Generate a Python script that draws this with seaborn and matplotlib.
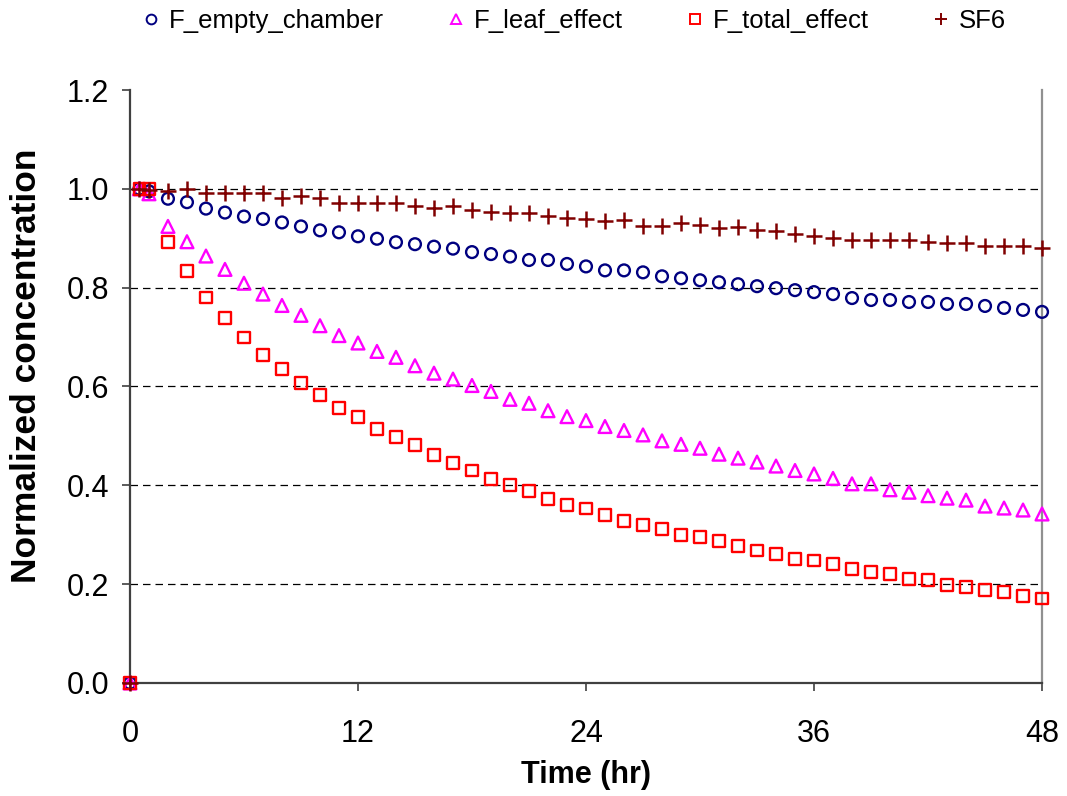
import matplotlib
matplotlib.use("Agg")
import matplotlib.pyplot as plt
import seaborn as sns
import pandas as pd

time_hr = [0, 0.5, 1] + list(range(2, 49))

f_empty_chamber = [0, 1.0, 0.995,
    0.980, 0.973, 0.960, 0.952, 0.944, 0.939, 0.932, 0.924, 0.916, 0.912,
    0.904, 0.899, 0.892, 0.888, 0.883, 0.879, 0.872, 0.868, 0.863, 0.856,
    0.856, 0.848, 0.843, 0.835, 0.835, 0.831, 0.823, 0.819, 0.815, 0.811,
    0.807, 0.803, 0.799, 0.795, 0.791, 0.787, 0.779, 0.775, 0.775, 0.771,
    0.771, 0.767, 0.767, 0.763, 0.759, 0.755, 0.751]

f_leaf_effect = [0, 1.0, 0.99,
    0.924, 0.893, 0.864, 0.837, 0.809, 0.787, 0.764, 0.744, 0.723, 0.703,
    0.688, 0.671, 0.659, 0.642, 0.627, 0.615, 0.602, 0.590, 0.574, 0.566,
    0.551, 0.539, 0.531, 0.519, 0.511, 0.502, 0.490, 0.483, 0.475, 0.463,
    0.455, 0.447, 0.439, 0.430, 0.423, 0.414, 0.403, 0.403, 0.391, 0.386,
    0.379, 0.374, 0.370, 0.358, 0.354, 0.350, 0.342]

f_total_effect = [0, 1.0, 1.0,
    0.893, 0.833, 0.780, 0.739, 0.699, 0.663, 0.636, 0.607, 0.583, 0.557,
    0.538, 0.514, 0.497, 0.481, 0.461, 0.445, 0.430, 0.413, 0.401, 0.389,
    0.373, 0.360, 0.353, 0.340, 0.328, 0.320, 0.312, 0.300, 0.296, 0.287,
    0.277, 0.268, 0.261, 0.251, 0.248, 0.240, 0.231, 0.224, 0.221, 0.211,
    0.208, 0.198, 0.195, 0.188, 0.184, 0.176, 0.171]

sf6 = [0, 1.0, 0.998,
    0.995, 1.0, 0.991, 0.991, 0.991, 0.991, 0.982, 0.986, 0.982, 0.971,
    0.971, 0.971, 0.971, 0.966, 0.962, 0.966, 0.957, 0.954, 0.951, 0.951,
    0.946, 0.942, 0.939, 0.934, 0.937, 0.924, 0.924, 0.931, 0.926, 0.920,
    0.922, 0.916, 0.914, 0.909, 0.905, 0.900, 0.897, 0.897, 0.897, 0.897,
    0.893, 0.890, 0.890, 0.885, 0.885, 0.885, 0.881]

x_ticks = [0, 12, 24, 36, 48]
y_ticks = [0.0, 0.2, 0.4, 0.6, 0.8, 1.0, 1.2]

series = [
    ("F_empty_chamber", f_empty_chamber, "o", "#000080"),
    ("F_leaf_effect", f_leaf_effect, "^", "#FF00FF"),
    ("F_total_effect", f_total_effect, "s", "#FF0000"),
    ("SF6", sf6, "+", "#800000"),
]

sns.set_style("white")
plt.rcParams["font.family"] = ["Liberation Sans", "DejaVu Sans"]
plt.rcParams["text.color"] = "black"
plt.rcParams["axes.labelcolor"] = "black"

fig, ax = plt.subplots(figsize=(10.67, 7.96), dpi=100)
fig.subplots_adjust(left=0.1218, right=0.9766, top=0.8869, bottom=0.142)

handles = []
for name, vals, mk, col in series:
    df = pd.DataFrame({"Time": time_hr, "Value": vals})
    if mk == "+":
        sns.scatterplot(data=df, x="Time", y="Value", marker="+", color=col,
                        s=140, linewidth=1.8, ax=ax, clip_on=False, zorder=3)
    else:
        size = 72 if mk != "^" else 85
        sns.scatterplot(data=df, x="Time", y="Value", marker=mk,
                        facecolor="none", edgecolor=col, s=size, linewidth=1.7,
                        ax=ax, clip_on=False, zorder=3)
    h = plt.Line2D([], [], linestyle="none", marker=mk,
                   markersize=8 if mk == "+" else 7,
                   markerfacecolor="none", markeredgecolor=col,
                   markeredgewidth=1.4, color=col)
    handles.append((h, name))

ax.set_xlim(0, 48)
ax.set_ylim(0, 1.2)
ax.set_xticks(x_ticks)
ax.set_yticks(y_ticks)
ax.set_yticklabels([f"{v:.1f}" for v in y_ticks])

ax.yaxis.grid(True, color="black", linestyle=(0, (6, 4)), linewidth=0.9)
ax.xaxis.grid(False)
ax.get_ygridlines()[-1].set_visible(False)
ax.get_ygridlines()[0].set_visible(False)

for s in ["left", "bottom"]:
    ax.spines[s].set_color("#404040")
    ax.spines[s].set_linewidth(1.6)
ax.spines["right"].set_color("#909090")
ax.spines["right"].set_linewidth(1.6)
ax.spines["top"].set_visible(False)

ax.tick_params(axis="both", direction="out", length=6, width=1.2,
               color="#404040", labelsize=22, labelcolor="black")
ax.tick_params(axis="y", pad=9, left=True)
ax.tick_params(axis="x", pad=20, bottom=True)

ax.set_xlabel("Time (hr)", fontsize=22, fontweight="bold", labelpad=8)
ax.set_ylabel("Normalized concentration", fontsize=25.5, fontweight="bold")
ax.yaxis.set_label_coords(-0.095, 0.535)

fig.legend([h for h, _ in handles], [n for _, n in handles],
           loc="upper center", bbox_to_anchor=(0.536, 1.018), ncol=4,
           frameon=False, fontsize=18.5, handletextpad=0.2,
           columnspacing=2.3, handlelength=1.0)

fig.savefig("out.png", dpi=100)
